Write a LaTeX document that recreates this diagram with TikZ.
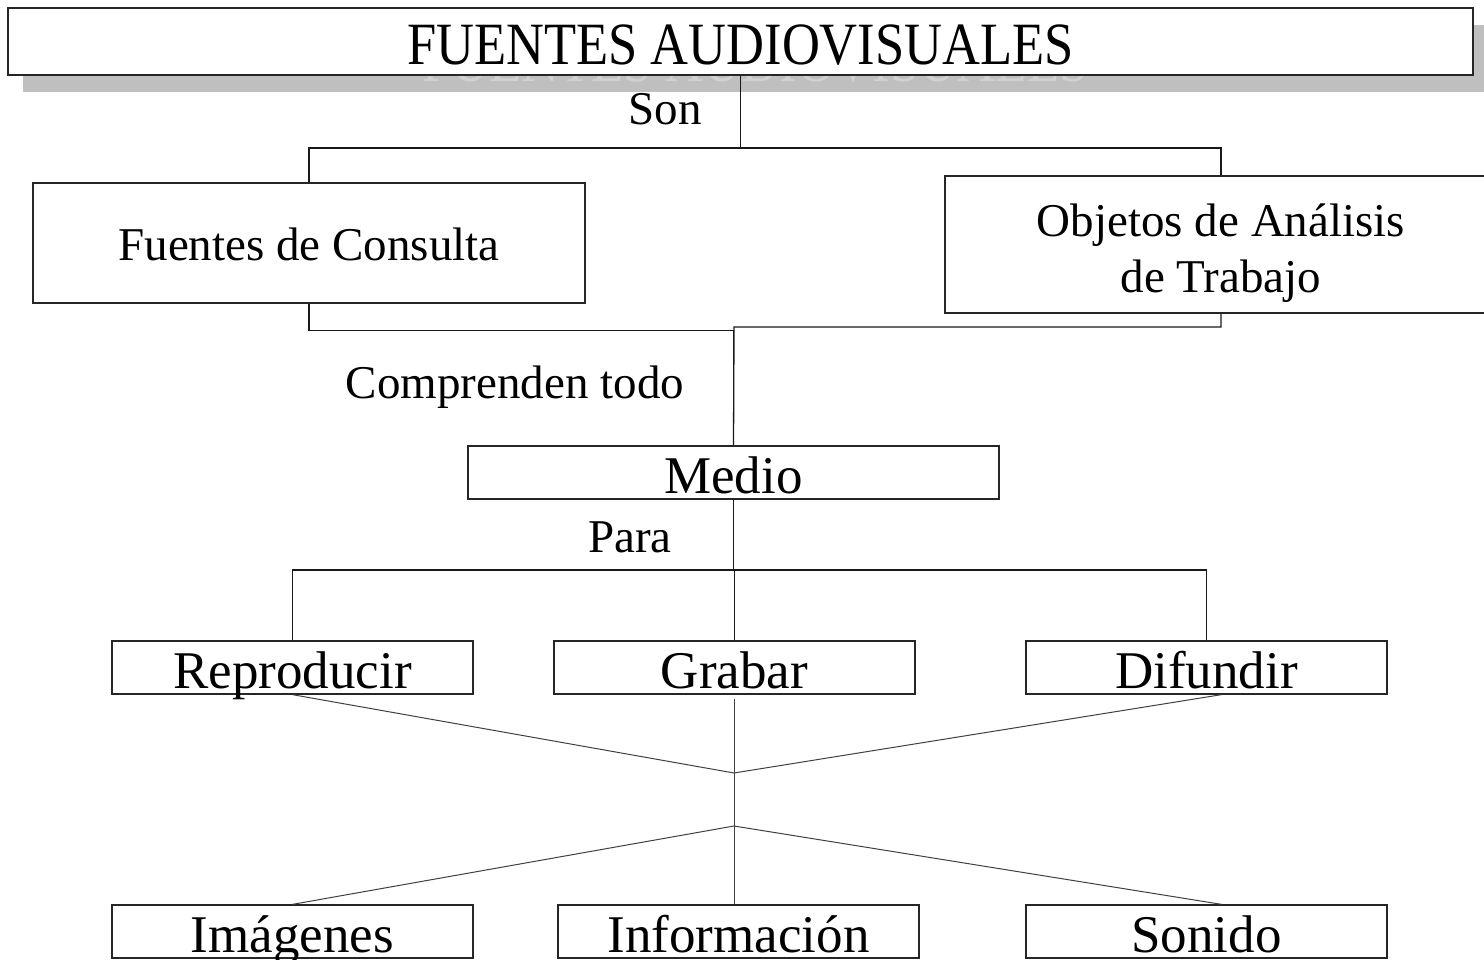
\documentclass[tikz,border=0pt]{standalone}
\usepackage{fontspec}
\setmainfont{Liberation Serif}
\usepackage{tikz}
\usetikzlibrary{calc}

\newcommand{\titletxt}{\fontsize{60}{66}\selectfont}
\newcommand{\bigtxt}{\fontsize{53}{60}\selectfont}
\newcommand{\midtxt}{\fontsize{47}{56}\selectfont}

\tikzset{
  box/.style={draw=black!85, line width=1.3pt, fill=white, inner sep=0pt},
  titlebox/.style={box, minimum width=1465pt, text height=57pt, text depth=10pt, font=\titletxt},
  rowbox/.style={box, minimum width=361pt, text height=47pt, text depth=6pt, font=\bigtxt},
  lbl/.style={inner sep=0pt, font=\midtxt},
  link/.style={line width=1.3pt, black!90},
  thin link/.style={line width=1pt, black!75}
}

\begin{document}
\begin{tikzpicture}[x=1pt,y=-1pt]
\useasboundingbox (0,0) rectangle (1484,960);

% title and its shadow
\node[titlebox, draw=none, fill=black!25, text=black!18, anchor=base] (titleshadow) at (755.5,82) {\scalebox{0.875}[1]{FUENTES AUDIOVISUALES}};
\node[titlebox, anchor=base] (title) at (740.5,65) {\scalebox{0.875}[1]{FUENTES AUDIOVISUALES}};

\node[box, minimum width=552pt, text height=78pt, text depth=42pt, font=\midtxt, anchor=base] (consulta) at (309,261) {Fuentes de Consulta};
\node[box, minimum width=552pt, minimum height=137pt, align=center, font=\midtxt] (objetos) at (1221,244.5) {\rule{0pt}{51pt}Objetos de Análisis\\de Trabajo};

\node[lbl, anchor=base] (sonlbl) at (665,125) {Son};
\node[lbl, anchor=base] (comprenden) at (515,398) {Comprenden todo};
\node[box, minimum width=531pt, text height=47pt, text depth=6pt, font=\bigtxt, anchor=base] (medio) at (733.5,493) {Medio};
\node[lbl, anchor=base] (para) at (630,552) {Para};

\node[rowbox, anchor=base] (repro) at (292.5,688) {Reproducir};
\node[rowbox, anchor=base] (grabar) at (734.5,688) {Grabar};
\node[rowbox, anchor=base] (difundir) at (1206.5,688) {Difundir};
\node[rowbox, anchor=base] (imagenes) at (292.5,952) {Imágenes};
\node[rowbox, anchor=base] (info) at (738.5,952) {Información};
\node[rowbox, anchor=base] (sonido) at (1206.5,952) {Sonido};

\coordinate (sonbar) at (0,148);
\coordinate (gather) at (734,327);
\coordinate (parabar) at (0,570);
\coordinate (mix) at (734,773);
\coordinate (split) at (734,826);

% Son
\draw[link] (title.south) -- (title.south |- sonbar);
\draw[link] (consulta.north) |- (objetos.north |- sonbar) -- (objetos.north);
% Comprenden todo
\draw[link] (consulta.south) -- ++(0,27) -| (medio.north);
\draw[link] (objetos.south) |- (gather) -- (medio.north);
% Para
\draw[link] (medio.south) -- (medio.south |- parabar);
\draw[link] (repro.north) |- (difundir.north |- parabar) -- (difundir.north);
\draw[link] (grabar.north) -- (grabar.north |- parabar);
% bottom
\draw[thin link] (repro.south) -- (mix) -- ([xshift=15pt]difundir.south);
\draw[thin link] ([yshift=-4pt]grabar.south) -- (grabar.south |- info.north);
\draw[thin link] (imagenes.north) -- (split) -- ([xshift=15pt]sonido.north);
\end{tikzpicture}
\end{document}
